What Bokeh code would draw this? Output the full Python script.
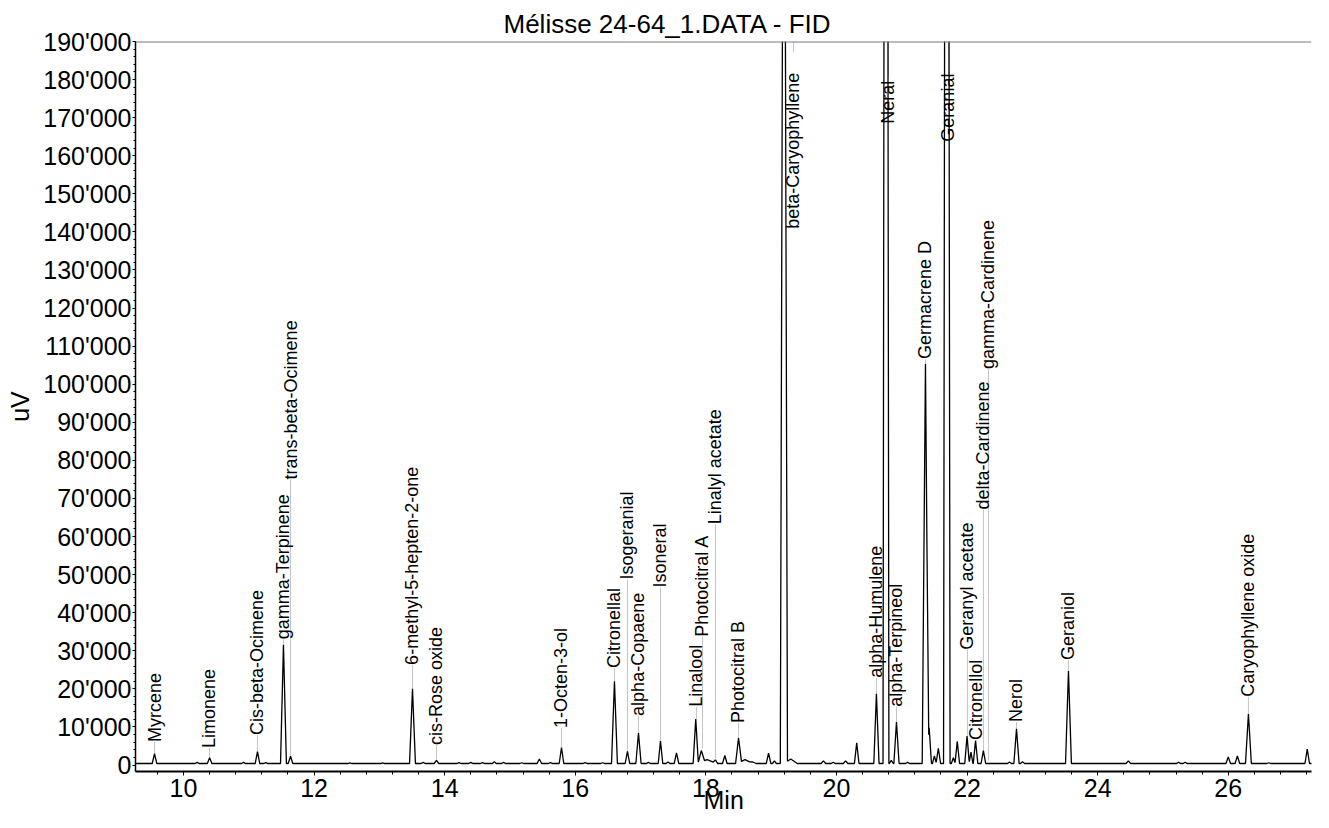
import numpy as np
from bokeh.plotting import figure
from bokeh.models import Range1d, FixedTicker, Span, ColumnDataSource, Title
from bokeh.core.properties import value
from bokeh.embed import file_html
from bokeh.resources import INLINE

# ---------------- data ----------------
baseline_uv = 400

# retention time (min), peak height above baseline (uV), half base width (min)
peak_time = [9.556, 10.21, 10.40, 10.92, 11.133, 11.26, 11.531, 11.639, 12.55, 13.05,
             13.507, 13.67, 13.874, 14.22, 14.40, 14.58, 14.76, 14.90, 15.18, 15.45,
             15.62, 15.789, 16.15, 16.42, 16.600, 16.799, 16.968, 17.12, 17.305, 17.42,
             17.55, 17.845, 17.93, 18.02, 18.147, 18.29, 18.50, 18.60, 18.72, 18.96,
             19.05, 19.195, 19.30, 19.80, 19.95, 20.14, 20.31, 20.612, 20.758, 20.84,
             20.919, 21.09, 21.363, 21.42, 21.50, 21.56, 21.690, 21.79, 21.85, 22.00,
             22.06, 22.13, 22.25, 22.65, 22.757, 22.85, 23.553, 24.47, 25.24, 25.34,
             26.00, 26.14, 26.309, 26.62, 27.21, 27.41, 27.46]
peak_height = [2600, 300, 1500, 300, 3100, 250, 31200, 1900, 150, 150,
               19600, 300, 800, 250, 300, 250, 500, 300, 200, 1200,
               250, 4200, 250, 200, 21600, 3200, 8000, 300, 5900, 400,
               2800, 11700, 3000, 1000, 800, 2100, 6600, 1000, 400, 2700,
               700, 330000, 1200, 700, 350, 700, 5400, 18300, 600000, 800,
               10900, 300, 104900, 9400, 2000, 4000, 600000, 1500, 5800, 7200,
               3000, 6000, 3400, 400, 9100, 500, 24300, 700, 350, 350,
               1700, 2000, 13000, 200, 3800, 700, 1000]
peak_halfwidth = [0.035, 0.03, 0.035, 0.03, 0.035, 0.03, 0.045, 0.035, 0.03, 0.03,
                  0.045, 0.03, 0.035, 0.03, 0.03, 0.03, 0.03, 0.03, 0.03, 0.035,
                  0.03, 0.035, 0.03, 0.03, 0.045, 0.035, 0.04, 0.03, 0.035, 0.03,
                  0.035, 0.04, 0.05, 0.15, 0.035, 0.035, 0.045, 0.12, 0.05, 0.035,
                  0.03, 0.055, 0.1, 0.035, 0.03, 0.035, 0.035, 0.04, 0.045, 0.03,
                  0.04, 0.03, 0.05, 0.035, 0.03, 0.035, 0.05, 0.03, 0.035, 0.035,
                  0.03, 0.035, 0.035, 0.03, 0.04, 0.03, 0.045, 0.035, 0.03, 0.03,
                  0.035, 0.035, 0.045, 0.03, 0.035, 0.03, 0.03]

# peak annotations: name, time, where the text starts, leader line from / to (uV)
label_names = ["Myrcene", "Limonene", "Cis-beta-Ocimene", "gamma-Terpinene",
               "trans-beta-Ocimene", "6-methyl-5-hepten-2-one", "cis-Rose oxide",
               "1-Octen-3-ol", "Citronellal", "Isogeranial", "alpha-Copaene", "Isoneral",
               "Linalool", "Photocitral A", "Linalyl acetate", "Photocitral B",
               "beta-Caryophyllene", "alpha-Humulene", "Neral", "alpha-Terpineol",
               "Germacrene D", "Geranial", "Geranyl acetate", "Citronellol",
               "delta-Cardinene", "gamma-Cardinene", "Nerol", "Geraniol",
               "Caryophyllene oxide"]
label_time = [9.556, 10.398, 11.133, 11.531, 11.639, 13.507, 13.874, 15.789, 16.600,
              16.799, 16.968, 17.305, 17.856, 17.948, 18.147, 18.499, 19.341, 20.612,
              20.796, 20.919, 21.363, 21.715, 22.006, 22.144, 22.251, 22.328, 22.757,
              23.553, 26.309]
label_text_start = [6050, 4470, 7900, 33000, 75000, 26300, 5260, 9740, 25500, 48700,
                    12900, 46600, 15300, 33700, 63200, 11050, 140800, 22900, 168400,
                    15300, 106600, 163700, 30300, 6600, 67100, 104000, 11300, 27600,
                    17900]
leader_low = [3000, 1900, 3500, 31600, 2300, 20000, 1200, 4600, 22000, 3600, 8400, 6300,
              12100, 4400, 1800, 7400, 187300, 18700, 181000, 11300, 105300, 181000,
              7600, 6400, 3800, 1200, 9500, 24700, 13400]
leader_high = [6050, 4470, 7900, 33000, 75000, 26300, 5260, 9740, 25500, 48700, 12900,
               46600, 15300, 33700, 63200, 11050, 195000, 22900, 195000, 15300, 106600,
               195000, 30300, 6600, 67100, 104000, 11300, 27600, 17900]

x_ticks = [10, 12, 14, 16, 18, 20, 22, 24, 26]
x_tick_labels = ["10", "12", "14", "16", "18", "20", "22", "24", "26"]
y_ticks = [0, 10000, 20000, 30000, 40000, 50000, 60000, 70000, 80000, 90000, 100000,
           110000, 120000, 130000, 140000, 150000, 160000, 170000, 180000, 190000]
y_tick_labels = ["0", "10'000", "20'000", "30'000", "40'000", "50'000", "60'000",
                 "70'000", "80'000", "90'000", "100'000", "110'000", "120'000",
                 "130'000", "140'000", "150'000", "160'000", "170'000", "180'000",
                 "190'000"]

x_start, x_end = 9.265, 27.275
y_start, y_end = -1700, 190000

# ---------------- trace: baseline + sum of the read peaks ----------------
t_pk = np.array(peak_time)
h_pk = np.array(peak_height, dtype=float)
w_pk = np.array(peak_halfwidth)
xs = np.unique(np.concatenate([[x_start, x_end], t_pk - w_pk, t_pk, t_pk + w_pk]))
contrib = h_pk[None, :] * np.clip(1 - np.abs(xs[:, None] - t_pk[None, :]) / w_pk[None, :], 0, None)
ys = baseline_uv + contrib.sum(axis=1)

FONT = "Liberation Sans"

p = figure(width=1313, height=812, output_backend="svg", toolbar_location=None,
           x_range=Range1d(x_start, x_end), y_range=Range1d(y_start, y_end),
           min_border_left=135, min_border_right=2, min_border_top=41,
           min_border_bottom=41)
p.background_fill_color = "white"
p.border_fill_color = "white"
p.outline_line_color = None
p.xgrid.visible = False
p.ygrid.visible = False

p.title.text = "Mélisse 24-64_1.DATA - FID"
p.title.align = "left"
p.title.offset = 368
p.title.standoff = 6
p.title.text_font = FONT
p.title.text_font_size = "26px"
p.title.text_font_style = "normal"
p.title.text_color = "black"

# axes
p.xaxis.ticker = FixedTicker(ticks=x_ticks, minor_ticks=list(np.arange(9.6, 27.5, 0.4)))
p.xaxis.major_label_overrides = dict(zip(x_ticks, x_tick_labels))
p.yaxis.ticker = FixedTicker(ticks=y_ticks, minor_ticks=list(np.arange(0, 190001, 2000)))
p.yaxis.major_label_overrides = dict(zip(y_ticks, y_tick_labels))

for ax in (p.xaxis[0], p.yaxis[0]):
    ax.axis_line_color = "black"
    ax.major_tick_line_color = "black"
    ax.minor_tick_line_color = "black"
    ax.major_tick_in = 0
    ax.minor_tick_in = 0
    ax.major_label_text_font = FONT
    ax.major_label_text_font_size = "25px"
    ax.major_label_text_color = "black"
    ax.axis_label_text_font = FONT
    ax.axis_label_text_font_size = "25px"
    ax.axis_label_text_font_style = "normal"
    ax.axis_label_text_color = "black"

p.xaxis.axis_line_width = 2
p.xaxis.major_tick_out = 4
p.xaxis.minor_tick_out = 3
p.xaxis.major_label_standoff = 3

p.yaxis.axis_line_width = 1.5
p.yaxis.major_tick_out = 3
p.yaxis.minor_tick_out = 2
p.yaxis.major_label_standoff = 1
p.yaxis.axis_label = "uV"
p.yaxis.axis_label_standoff = 6

# x axis title in the narrow strip under the tick labels
p.add_layout(Title(text="Min", align="left", offset=568, standoff=-28,
                   vertical_align="top", text_font=FONT, text_font_size="25px",
                   text_font_style="normal", text_color="black"), "below")

# top border
p.add_layout(Span(location=y_end, dimension="width", line_color="#7a7a7a", line_width=2))

# leader lines and peak names
lab = ColumnDataSource(dict(name=label_names, t=label_time, ys=label_text_start,
                            lo=leader_low, hi=leader_high))
p.segment(x0="t", y0="lo", x1="t", y1="hi", source=lab, line_color="#c4c4c4", line_width=1)

# chromatogram trace
p.line(xs, ys, line_color="black", line_width=1.3)

p.text(x="t", y="ys", text="name", source=lab, angle=np.pi / 2,
       text_font=value(FONT), text_font_size=value("18px"), text_color="black",
       text_align="left", text_baseline="middle")

open("out.html", "w").write(file_html(p, INLINE))
